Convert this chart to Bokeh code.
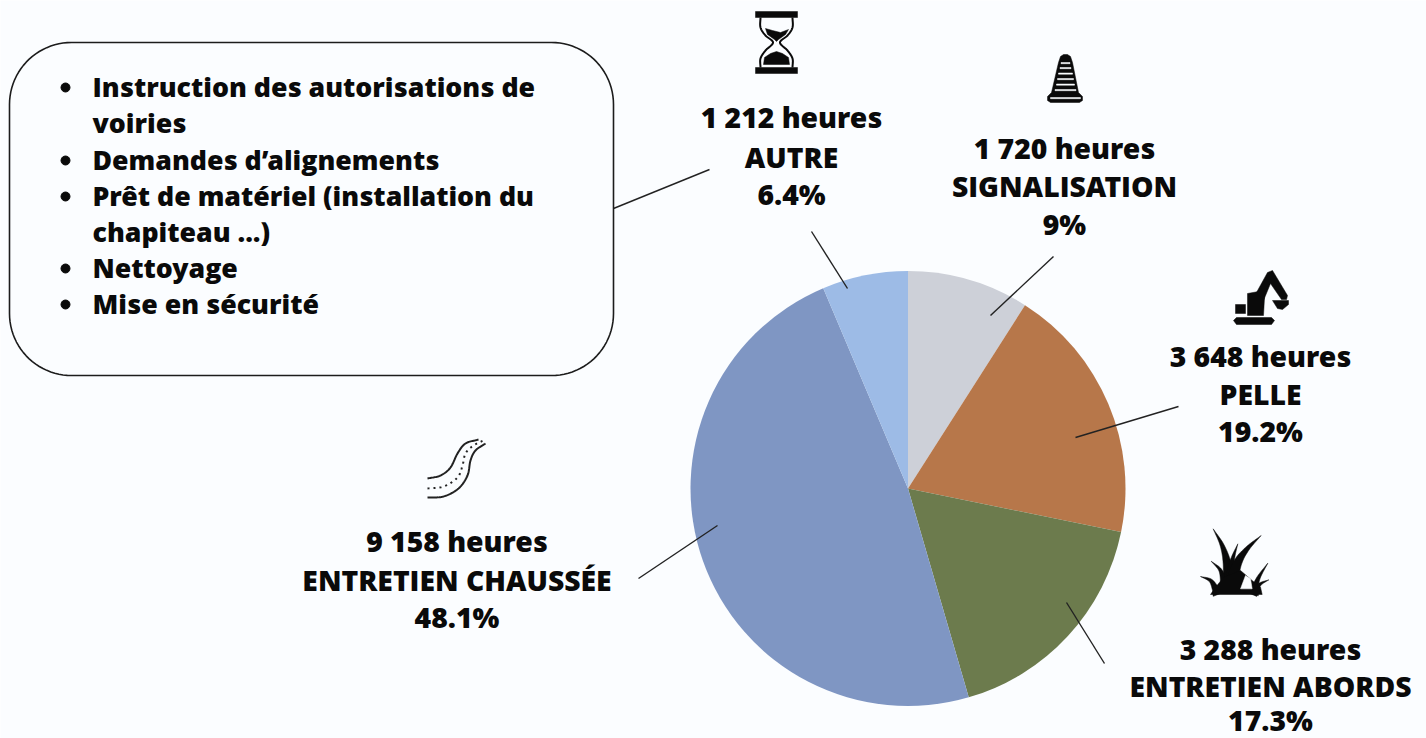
import numpy as np
from bokeh.plotting import figure
from bokeh.models import ColumnDataSource, Range1d
from bokeh.core.properties import value
from bokeh.embed import file_html
from bokeh.resources import INLINE

# ---- data ----
categories = ["SIGNALISATION", "PELLE", "ENTRETIEN ABORDS", "ENTRETIEN CHAUSSÉE", "AUTRE"]
hours = [1720, 3648, 3288, 9158, 1212]
hour_labels = ["1 720 heures", "3 648 heures", "3 288 heures", "9 158 heures", "1 212 heures"]
pct_labels = ["9%", "19.2%", "17.3%", "48.1%", "6.4%"]
colors = ["#CDD0D8", "#B7774A", "#6C7B4D", "#7F96C3", "#9DBBE6"]
notes = ["Instruction des autorisations de", "voiries", "Demandes d’alignements",
         "Prêt de matériel (installation du", "chapiteau ...)", "Nettoyage", "Mise en sécurité"]
note_has_bullet = [True, False, True, True, False, True, True]

FONT = "Open Sans ExtraBold, Open Sans"
BG = "#FBFDFF"
W, H = 1426, 738
INK = "#0A0A0A"


def Y(py):
    return 738 - np.asarray(py, dtype=float)


p = figure(width=W, height=H, x_range=Range1d(0, W), y_range=Range1d(0, H),
           output_backend="svg", toolbar_location=None, min_border=0,
           background_fill_color=BG, border_fill_color=BG, outline_line_color=None)
p.axis.visible = False
p.grid.visible = False

# ---- pie ----
h = np.array(hours, dtype=float)
frac = np.cumsum(h) / h.sum()
ang = np.pi / 2 - 2 * np.pi * np.concatenate([[0], frac])
src = ColumnDataSource(dict(start=ang[:-1], end=ang[1:], color=colors, cat=categories))
p.wedge(x=907.5, y=float(Y(488)), radius=217.5, start_angle="start", end_angle="end",
        direction="clock", fill_color="color", line_color=None, source=src)

# ---- leader lines ----
leaders = [((1053, 256), (990, 315)), ((1178, 406), (1075, 437)), ((1066, 602), (1104, 663)),
           ((638, 578), (717, 525)), ((811, 231), (847, 288)), ((613, 208), (709, 169))]
for a, b in leaders:
    p.line([a[0], b[0]], Y([a[1], b[1]]), line_color="#222222", line_width=1.4)


def label(x, y, t, size=28.3):
    p.text([x], [float(Y(y))], text=[t], text_font=value(FONT), text_font_style="bold",
           text_font_size=f"{size}px", text_color=INK, text_align="center", text_baseline="middle")


# ---- slice labels ----
label_x = [1064, 1260, 1270, 456.5, 791]
label_y = [(147, 185, 223), (355, 393, 430), (648, 685, 719), (540, 579, 616), (116, 156, 193)]
for i in range(5):
    label(label_x[i], label_y[i][0], hour_labels[i])
    label(label_x[i], label_y[i][1], categories[i])
    label(label_x[i], label_y[i][2], pct_labels[i])

# ---- rounded note box ----
x0, x1, y0, y1, r = 9, 613, 42, 375, 62
t = np.linspace(0, np.pi / 2, 24)
bx = np.concatenate([x1 - r + r * np.sin(t), x1 - r + r * np.cos(t), x0 + r - r * np.sin(t), x0 + r - r * np.cos(t)])
by = np.concatenate([y0 + r - r * np.cos(t), y1 - r + r * np.sin(t), y1 - r + r * np.cos(t), y0 + r - r * np.sin(t)])
p.patch(bx, Y(by), fill_color=BG, line_color="#1c1c1c", line_width=1.6)

note_y = [86, 122, 159, 195, 231, 267, 303]
for t_, yy, b in zip(notes, note_y, note_has_bullet):
    p.text([92], [float(Y(yy))], text=[t_], text_font=value(FONT), text_font_style="bold",
           text_font_size="26.7px", text_color=INK, text_align="left", text_baseline="middle")
    if b:
        p.scatter([65], [float(Y(yy + 1))], size=9, color=INK)


# ---- icons ----
def poly(pts, color=INK):
    a = np.array(pts, dtype=float)
    p.patch(a[:, 0], Y(a[:, 1]), fill_color=color, line_color=color, line_width=0.5)


def spline(pts, n=14):
    a = np.array(pts, dtype=float)
    e = np.vstack([2 * a[0] - a[1], a, 2 * a[-1] - a[-2]])
    out = []
    for i in range(1, len(e) - 2):
        for u in np.linspace(0, 1, n, endpoint=False):
            out.append(0.5 * (2 * e[i] + (e[i + 1] - e[i - 1]) * u
                              + (2 * e[i - 1] - 5 * e[i] + 4 * e[i + 1] - e[i + 2]) * u ** 2
                              + (3 * e[i] - e[i - 1] - 3 * e[i + 1] + e[i + 2]) * u ** 3))
    out.append(a[-1])
    return np.array(out)


def stroke(pts, w=2.0, color="#222222", dash="solid"):
    a = spline(pts)
    p.line(a[:, 0], Y(a[:, 1]), line_color=color, line_width=w, line_dash=dash)


def gz(zx, zy):
    return (1180 + zx / 3, 520 + zy / 3)


def blade(path, base_w):
    # tapered blade along a curve: tip first, base last
    c = spline([gz(*q) for q in path])
    d = np.gradient(c, axis=0)
    n = np.column_stack([-d[:, 1], d[:, 0]]) / np.maximum(np.hypot(d[:, 0], d[:, 1]), 1e-6)[:, None]
    wd = np.linspace(0, base_w / 2, len(c))[:, None]
    poly(np.vstack([c + n * wd, (c - n * wd)[::-1]]))


# hourglass
poly([(755, 11), (797, 11), (797, 17), (755, 17)])
poly([(755, 67), (797, 67), (797, 73), (755, 73)])
for side in (-1, 1):
    a = spline([(16, 17), (16, 27), (11, 35), (3.5, 42), (11, 50), (16, 58), (16, 67)])
    p.line(776 + side * a[:, 0], Y(a[:, 1]), line_color=INK, line_width=2)
poly([(765, 28), (772, 30), (780, 32), (788, 29), (785, 34), (778, 39), (776, 41), (774, 39), (767, 34)])
poly([(763, 64), (764, 57), (770, 53), (776, 51), (782, 53), (788, 57), (789, 64)])

# cone
poly([(1058, 62), (1060, 56), (1063, 54), (1067, 54), (1070, 56), (1072, 62), (1078, 92), (1082, 96), (1082, 100),
      (1079, 102), (1050, 102), (1047, 100), (1047, 96), (1051, 92)])
for yy, w in zip([62, 67, 72.5, 78, 83.5, 89], [9, 11, 14, 16, 18, 21]):
    poly([(1065 - w / 2, yy), (1065 + w / 2, yy), (1065 + w / 2, yy + 1.2), (1065 - w / 2, yy + 1.2)], BG)
poly([(1050, 97), (1080, 97), (1080, 98.2), (1050, 98.2)], BG)

# excavator
poly([(1236, 317), (1271, 317), (1274, 320), (1271, 324), (1236, 324), (1233, 320)])
poly([(1247, 293), (1258, 291), (1264, 297), (1263, 315), (1247, 315)])
poly([(1235, 304), (1245, 304), (1245, 313), (1235, 313)])
poly([(1256, 292), (1267, 272), (1272, 270), (1287, 295), (1286, 299), (1281, 299), (1270, 283), (1263, 300)])
poly([(1272, 300), (1288, 300), (1288, 304), (1282, 309), (1277, 308)])

# grass (zoomed-crop coordinates)
blade([(98, 25), (125, 75), (140, 130), (145, 200)], 12)
blade([(172, 70), (158, 110), (150, 150), (148, 205)], 10)
blade([(242, 45), (200, 85), (170, 130), (150, 200)], 13)
blade([(92, 122), (120, 150), (130, 190), (135, 215)], 10)
blade([(60, 168), (90, 180), (105, 205), (112, 222)], 10)
blade([(262, 128), (235, 170), (222, 205), (215, 222)], 10)
blade([(265, 178), (240, 190), (228, 205), (222, 222)], 8)
poly([gz(90, 222), gz(245, 222), gz(240, 200), gz(215, 180), gz(180, 150), gz(130, 170), gz(105, 200)])
poly([gz(180, 205), gz(215, 205), gz(210, 175), gz(195, 165)], BG)

# road
stroke([(427, 478), (440, 475), (450, 467), (457, 453), (465, 443), (478, 439)])
stroke([(427, 497), (443, 496), (458, 488), (467, 475), (470, 460), (475, 450), (485, 443)])
stroke([(427, 488), (443, 486), (457, 477), (462, 465), (465, 453), (473, 445), (485, 439)], w=2, dash="2 4")

open("out.html", "w").write(file_html(p, INLINE))
